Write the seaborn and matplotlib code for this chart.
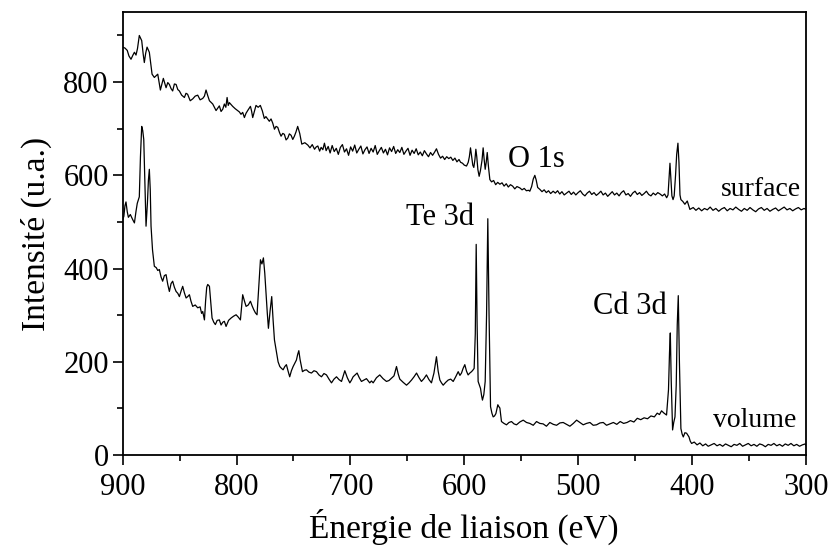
import matplotlib
matplotlib.use("Agg")
import matplotlib.pyplot as plt
import pandas as pd
import seaborn as sns
from matplotlib.ticker import MultipleLocator

# XPS survey spectra
surface_energy = [
    900, 898, 896, 894.5, 892.7, 891, 889.7, 888.3, 887, 885.4,
    884.3, 883.3, 882, 881, 879.8, 878.6, 876.6, 875.3, 874.2, 872.2,
    870.5, 869.2, 866.9, 864.3, 861.9, 860.4, 859, 857.5, 856.1, 854.6,
    853.1, 851.6, 850.2, 848.2, 845.8, 844.4, 843, 840.7, 838.5, 836.3,
    834.1, 832, 829.7, 828.2, 826.8, 825.3, 823.8, 820.9, 818, 816.5,
    815.1, 813.6, 812.1, 810.7, 809.4, 808.3, 807.3, 806.3, 804.8, 803.4,
    801.2, 799, 797.5, 796.1, 794.6, 793.1, 791.7, 790.2, 787.8, 786.8,
    785.8, 784.4, 782.9, 781, 779.1, 777.3, 775.6, 774.2, 772.7, 771.2,
    769.7, 768.2, 766.7, 765.3, 763.8, 762.3, 760.9, 759.4, 758, 756.5,
    755, 753.6, 752.1, 750.6, 749.2, 747.8, 746.3, 744.5, 742.7, 740,
    737.4, 735.5, 733.5, 731.5, 730, 728.6, 727, 725.7, 724.2, 722.8,
    721.3, 719.5, 717.8, 716, 714.2, 712.4, 710.6, 708.8, 707, 705.2,
    703.4, 701.6, 699.8, 698, 696.2, 694.4, 692.6, 690.8, 689, 687.2,
    685.4, 683.6, 681.8, 680, 678.2, 676.4, 674.6, 672.8, 671, 669.2,
    667.4, 665.6, 663.8, 662, 660.2, 658.4, 656.6, 654.8, 653, 651.2,
    649.4, 647.6, 645.8, 644, 642.2, 640.4, 638.6, 636.8, 635, 633.2,
    631.4, 629.6, 627.8, 626, 624.4, 622.6, 620.8, 619, 617.2, 615.4,
    613.6, 611.8, 610, 608.2, 606.4, 604.6, 603.2, 601.5, 600, 598,
    596.5, 595.5, 594.5, 593.5, 592.5, 591.6, 590.6, 589.8, 589, 588,
    586.9, 585.8, 584.4, 583.4, 582.5, 581.6, 580.7, 579.8, 578.7, 577.5,
    576, 574.2, 572.4, 570.6, 568.7, 566.8, 565, 563.1, 561.3, 559.4,
    557.5, 555.6, 553.7, 551.1, 549.2, 547.3, 545.4, 543.5, 542.4, 540.8,
    539.4, 538, 536.8, 535.5, 533.6, 531.7, 529.8, 527.9, 526, 524.1,
    521.9, 520, 518, 516.1, 514.2, 512.2, 510.1, 508, 506, 504,
    502, 500, 498, 496, 494, 492, 490, 488, 486, 484,
    482, 480, 478, 476, 474, 472, 470, 468, 466, 464,
    462, 460, 458, 456, 454, 452, 450, 448, 446, 444,
    442, 440, 438, 436, 434, 432, 430, 428, 426, 424,
    422.2, 421, 420.2, 419.3, 418.5, 417.6, 416.6, 415.6, 414.4, 413.4,
    412.3, 411.4, 410.5, 409.7, 408, 406.2, 404.1, 401.8, 398.9, 396.5,
    394, 391.5, 389, 386.5, 384, 381.5, 379, 376.5, 374, 371.5,
    369, 366.5, 364, 361.5, 359, 356.5, 354, 351.5, 349, 346.5,
    344, 341.5, 339, 336.5, 334, 331.5, 329, 326.5, 324, 321.5,
    319, 316.5, 314, 311.5, 309, 306.5, 304, 301.5, 300,
]
surface_intensity = [
    875, 873, 868, 856, 849, 858, 864, 858, 872, 900,
    894, 889, 860, 842, 862, 875, 864, 838, 817, 810,
    814, 817, 783, 808, 788, 799, 795, 786, 781, 796,
    795, 784, 781, 772, 767, 776, 774, 760, 764, 770,
    772, 762, 765, 770, 783, 771, 760, 753, 739, 744,
    749, 737, 742, 753, 746, 767, 750, 756, 752, 748,
    743, 739, 736, 731, 735, 724, 733, 739, 748, 738,
    724, 737, 750, 746, 750, 738, 722, 726, 721, 716,
    721, 712, 699, 705, 703, 692, 684, 690, 688, 676,
    680, 689, 686, 677, 684, 693, 705, 690, 667, 670,
    665, 659, 666, 656, 661, 663, 652, 660, 655, 669,
    653, 662, 648, 664, 651, 658, 645, 660, 666, 650,
    657, 643, 661, 652, 665, 648, 656, 663, 646, 655,
    661, 647, 658, 650, 664, 645, 653, 660, 648, 656,
    644, 659, 651, 662, 647, 655, 649, 660, 645, 652,
    658, 643, 654, 647, 657, 644, 650, 642, 653, 646,
    640, 649, 643, 650, 657, 645, 637, 641, 634, 640,
    636, 639, 632, 637, 629, 634, 628, 626, 622, 620,
    628, 640, 659, 640, 622, 617, 634, 656, 640, 612,
    598, 610, 632, 659, 634, 613, 628, 649, 618, 591,
    586, 589, 580, 585, 581, 584, 577, 582, 575, 580,
    577, 571, 576, 573, 569, 572, 567, 568, 566, 576,
    592, 600, 590, 574, 570, 565, 569, 563, 567, 561,
    566, 562, 567, 560, 565, 558, 562, 566, 559, 564,
    558, 563, 567, 560, 556, 562, 566, 559, 563, 557,
    561, 566, 558, 562, 555, 560, 565, 558, 562, 556,
    563, 567, 558, 561, 555, 562, 566, 559, 563, 557,
    561, 566, 559, 556, 562, 558, 563, 560, 556, 560,
    552, 558, 590, 626, 592, 556, 548, 556, 600, 645,
    669, 628, 558, 548, 544, 538, 545, 527, 531, 525,
    530, 524, 529, 526, 532, 525, 529, 523, 528, 531,
    524, 529, 526, 532, 527, 523, 529, 525, 531, 526,
    522, 528, 531, 525, 529, 523, 527, 530, 524, 528,
    532, 526, 529, 524, 528, 531, 526, 529, 527,
]

volume_energy = [
    900, 899, 898, 897.1, 896, 895, 893.3, 891.2, 889.7, 888.3,
    887.2, 886.2, 885.4, 884.4, 883.3, 882.4, 881.5, 880.5, 879.5, 878.3,
    877.4, 876.6, 875.8, 875.1, 873.8, 872.2, 870.5, 869.2, 867.8, 866.3,
    864.9, 863.4, 861.9, 860.4, 859, 857.5, 856.1, 854.6, 853.1, 851.6,
    850.2, 848.7, 847.3, 845.8, 844.3, 842.9, 841.4, 840, 838.5, 836.3,
    834.1, 832, 830.7, 829.7, 828.2, 827.2, 826.2, 825.3, 823.8, 822.6,
    821.5, 820, 818.6, 817, 815.1, 813.6, 812.1, 810.7, 809.2, 807,
    804.8, 802.6, 800.4, 798.5, 796.6, 795.6, 794.6, 793, 791.6, 789.7,
    787.8, 786.3, 784.9, 783.4, 782, 780.5, 779, 777.7, 776.4, 775.2,
    774.1, 773, 772, 770.5, 769.1, 767.9, 766.7, 765.3, 763.5, 762,
    760.5, 759.1, 757.6, 756.2, 754.7, 753.3, 751.8, 750.3, 748.8, 747.4,
    746.3, 745.3, 744.2, 742.1, 740.3, 738.6, 736.4, 734.2, 732, 729.8,
    727.6, 725.4, 723.2, 721, 718.8, 716.6, 714.4, 712.2, 710, 707.8,
    706.3, 704.9, 702.7, 700.5, 699, 697.6, 695.8, 694.1, 692.2, 690.3,
    688.1, 685.9, 683, 681.5, 680, 677.1, 674.2, 671.3, 668.3, 666.1,
    663.9, 661.7, 659.5, 658, 656.6, 653.6, 650.7, 648.5, 646.3, 644.1,
    641.9, 639.7, 637.6, 635.4, 633.2, 631, 628.8, 626.6, 624.4, 622.9,
    621.4, 620, 618.5, 616.3, 614.1, 611.9, 609.7, 607.5, 605.3, 603.8,
    602.4, 601, 599.5, 598, 596.6, 595.1, 593.6, 592.5, 591.3, 590.3,
    589.5, 588.7, 587.8, 586.7, 585.7, 584.8, 584, 582.8, 581.6, 580.4,
    579.3, 578.2, 576.9, 575.7, 574.6, 573.4, 572.2, 570.5, 569.6, 568.7,
    567.3, 565.1, 562.9, 560.7, 558.5, 556.3, 554.1, 551.2, 548.2, 545.3,
    542.4, 539.4, 536.5, 533.6, 530.7, 527.8, 524.8, 521.8, 518.9, 516,
    513.1, 510.2, 507.2, 504.2, 501.3, 498.4, 495.5, 492.6, 489.6, 486.7,
    483.8, 480.8, 477.9, 475, 472, 469, 466, 463, 460, 457,
    454, 451, 448, 445, 442, 439, 436, 433, 430.5, 428.5,
    426.7, 424.5, 422.3, 420.6, 419.7, 419, 418.2, 417, 416, 414.9,
    413.8, 412.9, 412, 411, 409.7, 408.6, 407.6, 406.2, 404.7, 402.6,
    401.5, 400.3, 398, 395.5, 393, 390.5, 388, 385.7, 383, 380.5,
    378, 375.5, 373, 370.5, 368, 365.5, 363, 360.5, 358, 355.5,
    353, 350.5, 348, 345.5, 343, 340.5, 338, 335.5, 333, 330.5,
    328, 325.5, 323, 320.5, 318, 315.5, 313, 310.5, 308, 305.5,
    303, 300.5, 300,
]
volume_intensity = [
    505, 512, 535, 543, 522, 510, 516, 505, 498, 523,
    540, 548, 554, 640, 705, 696, 677, 580, 491, 540,
    590, 613, 570, 491, 440, 405, 402, 396, 398, 382,
    373, 385, 387, 366, 351, 368, 373, 360, 351, 347,
    340, 352, 362, 348, 337, 340, 344, 330, 319, 322,
    316, 318, 304, 308, 290, 330, 360, 366, 362, 325,
    294, 285, 280, 289, 290, 279, 285, 287, 276, 289,
    294, 298, 301, 296, 290, 318, 344, 330, 319, 322,
    330, 320, 312, 305, 301, 360, 419, 410, 423, 390,
    348, 305, 272, 310, 340, 290, 247, 226, 200, 190,
    186, 183, 190, 194, 180, 168, 181, 190, 197, 204,
    216, 224, 205, 179, 182, 183, 178, 176, 181, 179,
    172, 168, 175, 172, 163, 155, 163, 168, 162, 158,
    170, 181, 166, 155, 161, 168, 172, 176, 166, 158,
    161, 164, 155, 159, 155, 166, 172, 164, 158, 160,
    165, 170, 190, 174, 163, 156, 150, 155, 161, 168,
    176, 166, 158, 164, 172, 162, 155, 176, 211, 180,
    161, 155, 150, 156, 161, 163, 158, 168, 179, 171,
    176, 186, 194, 180, 172, 176, 179, 182, 186, 260,
    452, 280, 158, 150, 143, 128, 118, 130, 158, 300,
    507, 300, 104, 90, 82, 84, 89, 108, 104, 101,
    72, 68, 65, 70, 72, 67, 65, 71, 75, 70,
    68, 64, 72, 68, 67, 62, 70, 66, 64, 69,
    70, 66, 62, 68, 75, 70, 65, 68, 70, 64,
    65, 69, 70, 64, 67, 70, 66, 72, 68, 70,
    74, 71, 79, 76, 80, 78, 84, 82, 90, 87,
    95, 90, 86, 140, 220, 262, 160, 54, 70, 82,
    150, 280, 342, 200, 57, 45, 39, 48, 47, 39,
    30, 25, 28, 22, 26, 20, 24, 19, 22, 25,
    20, 23, 19, 24, 21, 18, 23, 21, 25, 19,
    22, 25, 20, 23, 19, 24, 22, 18, 23, 21,
    25, 20, 23, 19, 24, 21, 25, 20, 23, 19,
    22, 24, 21,
]

peak_labels = ["O 1s", "Te 3d", "Cd 3d"]
peak_label_pos = [(562, 634), (651, 510), (487, 318)]
series_labels = ["surface", "volume"]
series_label_pos = [(304, 570), (308, 75)]


def main():
    sns.set_theme(style="ticks")
    plt.rcParams["font.family"] = ["Liberation Serif", "DejaVu Serif"]
    plt.rcParams["text.color"] = "black"
    plt.rcParams["axes.labelcolor"] = "black"

    surface = pd.DataFrame({"energy": surface_energy, "intensity": surface_intensity})
    volume = pd.DataFrame({"energy": volume_energy, "intensity": volume_intensity})

    fig, ax = plt.subplots(figsize=(8.29, 5.53), dpi=100)
    fig.subplots_adjust(left=0.148, right=0.972, bottom=0.177, top=0.978)

    for df in (surface, volume):
        sns.lineplot(data=df, x="energy", y="intensity", ax=ax, color="black",
                     lw=0.9, estimator=None, sort=False)

    ax.set_xlim(900, 300)
    ax.set_ylim(0, 950)
    ax.xaxis.set_major_locator(MultipleLocator(100))
    ax.xaxis.set_minor_locator(MultipleLocator(50))
    ax.yaxis.set_major_locator(MultipleLocator(200))
    ax.yaxis.set_minor_locator(MultipleLocator(100))
    ax.tick_params(which="major", direction="out", length=7, width=1.2,
                   labelsize=22, colors="black")
    ax.tick_params(which="minor", direction="out", length=4, width=1.2,
                   colors="black")
    ax.tick_params(axis="x", pad=6)
    ax.tick_params(axis="y", pad=3)
    for sp in ax.spines.values():
        sp.set_visible(True)
        sp.set_linewidth(1.3)
        sp.set_color("black")

    ax.set_xlabel("Énergie de liaison (eV)", fontsize=24, labelpad=5, color="black")
    ax.set_ylabel("Intensité (u.a.)", fontsize=24, labelpad=8, color="black")

    for txt, (x, y) in zip(peak_labels, peak_label_pos):
        ax.text(x, y, txt, fontsize=22, ha="left", va="center", color="black")
    for txt, (x, y) in zip(series_labels, series_label_pos):
        ax.text(x, y, txt, fontsize=20, ha="right", va="center", color="black")

    fig.savefig("out.png", dpi=100)


if __name__ == "__main__":
    main()
